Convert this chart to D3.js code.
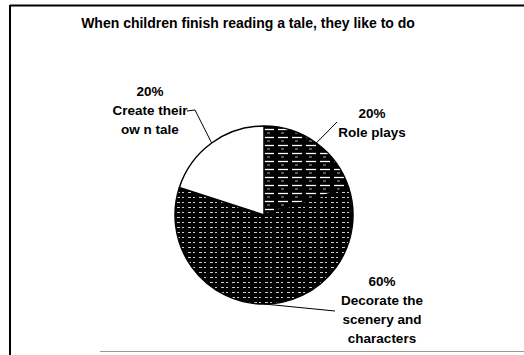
<!DOCTYPE html>
<html lang="en">
<head>
<meta charset="UTF-8">
<title>When children finish reading a tale</title>
<style>
  body { margin: 0; background: #fff; }
  svg { display: block; font-family: "Liberation Sans", Arial, sans-serif; }
  .label { font-size: 13.5px; font-weight: bold; fill: #000; }
  .title { font-size: 14px; font-weight: bold; fill: #000; }
</style>
</head>
<body>
<svg id="chart" width="524" height="355"></svg>
<script src="https://d3js.org/d3.v7.min.js"></script>
<script>
// data
var categories = ["Role plays", "Decorate the scenery and characters", "Create their own tale"];
var values = [20, 60, 20];
var labelLines = [
  ["20%", "Role plays"],
  ["60%", "Decorate the", "scenery and", "characters"],
  ["20%", "Create their", "ow n tale"]
];

// layout for the labels and leader lines (x, y of first line, knee point)
var labelPos = [
  { x: 372, y: 113, knee: [337, 122], end: null },
  { x: 382, y: 281, knee: [335, 311], end: null },
  { x: 150, y: 91,  knee: [195, 110], end: [187, 111] }
];

var svg = d3.select("#chart");
var cx = 264, cy = 215, r = 89;

// fill patterns: black with sparse white dashes, like the scanned hatching
var defs = svg.append("defs");
var p1 = defs.append("pattern").attr("id", "hatchA")
  .attr("patternUnits", "userSpaceOnUse").attr("width", 14).attr("height", 8);
p1.append("rect").attr("width", 14).attr("height", 8).attr("fill", "#000");
p1.append("line").attr("x1", 0).attr("x2", 10).attr("y1", 2.5).attr("y2", 2.5)
  .attr("stroke", "#fff").attr("stroke-width", 1.3);
p1.append("line").attr("x1", 3).attr("x2", 6).attr("y1", 6).attr("y2", 6)
  .attr("stroke", "#fff").attr("stroke-width", 0.7);

var p2 = defs.append("pattern").attr("id", "hatchB")
  .attr("patternUnits", "userSpaceOnUse").attr("width", 11).attr("height", 5);
p2.append("rect").attr("width", 11).attr("height", 5).attr("fill", "#000");
p2.append("line").attr("x1", 1).attr("x2", 4).attr("y1", 2.5).attr("y2", 2.5)
  .attr("stroke", "#fff").attr("stroke-width", 0.8);
p2.append("line").attr("x1", 6).attr("x2", 8).attr("y1", 2.5).attr("y2", 2.5)
  .attr("stroke", "#fff").attr("stroke-width", 0.8);

var fills = ["url(#hatchA)", "url(#hatchB)", "#fff"];

// frame
svg.append("line").attr("x1", 10).attr("x2", 524).attr("y1", 5.5).attr("y2", 5.5)
  .attr("stroke", "#000").attr("stroke-width", 2);
svg.append("line").attr("x1", 10).attr("x2", 10).attr("y1", 5).attr("y2", 355)
  .attr("stroke", "#000").attr("stroke-width", 2);
svg.append("line").attr("x1", 100).attr("x2", 524).attr("y1", 351.5).attr("y2", 351.5)
  .attr("stroke", "#999").attr("stroke-width", 1);

svg.append("text").attr("class", "title")
  .attr("x", 248).attr("y", 28).attr("text-anchor", "middle")
  .text("When children finish reading a tale, they like to do");

var pie = d3.pie().sort(null).value(function(d) { return d; });
var arcs = pie(values);
var arc = d3.arc().innerRadius(0).outerRadius(r);

var g = svg.append("g").attr("transform", "translate(" + cx + "," + cy + ")");

g.selectAll("path.slice")
  .data(arcs)
  .enter().append("path")
  .attr("class", "slice")
  .attr("d", arc)
  .attr("fill", function(d, i) { return fills[i]; })
  .attr("stroke", "#000")
  .attr("stroke-width", 1.5)
  .attr("stroke-linejoin", "round");

// leader lines
arcs.forEach(function(d, i) {
  var a = (d.startAngle + d.endAngle) / 2;
  var px = cx + r * Math.sin(a), py = cy - r * Math.cos(a);
  var pts = [[px, py], labelPos[i].knee];
  if (labelPos[i].end) pts.push(labelPos[i].end);
  svg.append("path")
    .attr("d", d3.line()(pts))
    .attr("fill", "none")
    .attr("stroke", "#000")
    .attr("stroke-width", 1);
});

// labels
labelLines.forEach(function(lines, i) {
  var t = svg.append("text").attr("class", "label")
    .attr("text-anchor", "middle");
  lines.forEach(function(s, j) {
    t.append("tspan")
      .attr("x", labelPos[i].x)
      .attr("y", labelPos[i].y + j * 19)
      .attr("dy", "0.35em")
      .text(s);
  });
});
</script>
</body>
</html>
